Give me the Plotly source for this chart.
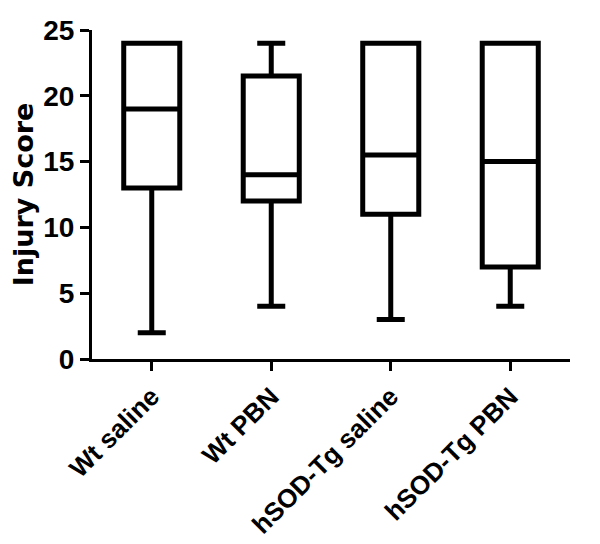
import plotly.graph_objects as go

groups = ["Wt saline", "Wt PBN", "hSOD-Tg saline", "hSOD-Tg PBN"]
mins = [2, 4, 3, 4]
q1s = [13, 12, 11, 7]
medians = [19, 14, 15.5, 15]
q3s = [24, 21.5, 24, 24]
maxs = [24, 24, 24, 24]

fig = go.Figure()
fig.add_trace(go.Box(
    x=groups,
    q1=q1s, median=medians, q3=q3s,
    lowerfence=mins, upperfence=maxs,
    line=dict(color="black", width=5),
    fillcolor="white",
    whiskerwidth=0.5,
    boxpoints=False,
    hoverinfo="skip",
))

# page body has an 8px margin, so the figure is a little smaller than the window
fig.update_layout(
    width=592, height=536,
    margin=dict(l=84, r=30, t=22, b=185),
    paper_bgcolor="white", plot_bgcolor="white",
    showlegend=False,
    boxgap=0.33,
    xaxis=dict(
        automargin=False,
        showline=True, linecolor="black", linewidth=3,
        ticks="outside", tickwidth=3, ticklen=9, tickcolor="black",
        tickangle=-45, showgrid=False, zeroline=False,
        tickfont=dict(family="Liberation Sans, Arial", size=26, color="black", weight="bold"),
    ),
    yaxis=dict(
        automargin=False,
        range=[0, 25], tickvals=[0, 5, 10, 15, 20, 25],
        showline=True, linecolor="black", linewidth=3,
        ticks="outside", tickwidth=3, ticklen=9, tickcolor="black",
        showgrid=False, zeroline=False,
        tickfont=dict(family="Liberation Sans, Arial", size=28, color="black", weight="bold"),
        title=dict(text="Injury Score", standoff=10,
                   font=dict(family="DejaVu Sans", size=27, color="black", weight="bold")),
    ),
)

fig.write_html("out.html")
